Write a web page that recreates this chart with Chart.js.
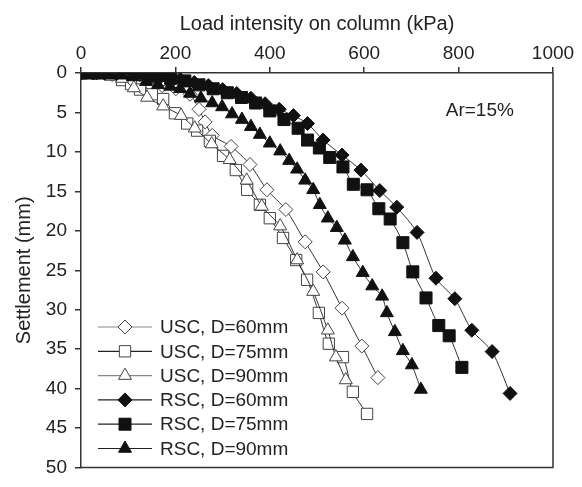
<!DOCTYPE html>
<html><head><meta charset="utf-8">
<script src="https://cdn.jsdelivr.net/npm/chart.js@4.4.0/dist/chart.umd.min.js"></script>
<style>html,body{margin:0;padding:0;background:#fff}#wrap{width:582px;height:487px}</style>
</head><body><div id="wrap"><canvas id="c" width="582" height="487"></canvas></div>
<script>
// ---- data (load kPa, settlement mm) ----
const seriesLabels = ['USC, D=60mm','USC, D=75mm','USC, D=90mm','RSC, D=60mm','RSC, D=75mm','RSC, D=90mm'];
const xTicks = [0,200,400,600,800,1000];
const yTicks = [0,5,10,15,20,25,30,35,40,45,50];
const usc60Load   = [4,34,66,97,125,146,172,201,231,250,263,278,318,358,394,434,475,513,553,595,629];
const usc60Settle = [0,0,0.2,0.6,1.0,1.4,1.6,2.0,2.7,4.6,6.2,7.9,9.3,11.6,14.8,17.3,21.4,25.2,29.8,34.6,38.6];
const usc75Load   = [4,32,61,87,106,125,150,174,199,225,246,273,301,328,352,379,400,428,456,479,504,525,555,576,606];
const usc75Settle = [0,0,0.2,0.9,1.4,2.1,2.7,3.3,5.1,6.4,7.3,8.6,10.5,12.3,14.8,16.7,18.4,20.9,23.7,26.2,30.4,34.3,36.0,40.4,43.2];
const usc90Load   = [4,32,61,87,112,140,174,212,241,277,315,351,383,422,458,492,523,540,561];
const usc90Settle = [0,0,0.2,0.7,1.9,3.1,4.2,5.4,7.0,9.0,11.0,13.6,16.9,19.4,23.7,27.7,32.6,36.0,38.9];
const rsc60Load   = [0,25,50,75,100,125,150,180,210,240,270,300,330,360,390,420,450,480,513,553,593,633,669,712,752,792,828,871,909];
const rsc60Settle = [0,0,0,0.1,0.1,0.2,0.3,0.5,0.8,1.2,1.6,2.1,2.6,3.2,3.9,4.6,5.4,6.4,8.5,10.4,12.3,14.9,17.0,20.2,26.0,28.6,32.6,35.3,40.6];
const rsc75Load   = [0,20,40,60,85,110,135,160,190,220,250,280,310,340,370,400,430,460,480,505,527,555,577,606,631,655,682,703,731,758,780,807];
const rsc75Settle = [0,0,0,0,0,0.1,0.2,0.4,0.7,1.0,1.5,2.0,2.5,3.1,3.8,4.8,5.9,7.0,8.5,9.5,10.7,11.9,14.1,14.8,17.2,18.5,21.5,25.2,28.5,32.0,33.3,37.3];
const rsc90Load   = [4,30,57,83,110,138,163,189,210,231,254,278,299,320,341,360,379,400,422,441,458,475,492,506,523,542,559,576,597,617,638,648,665,682,701,720];
const rsc90Settle = [0,0,0,0.1,0.5,1.1,1.5,1.7,2.0,2.6,3.2,3.8,4.3,5.2,5.9,6.8,7.8,8.9,9.9,11.1,12.2,13.6,14.8,16.7,18.4,19.6,21.2,23.3,25.3,27.0,28.3,30.4,32.8,35.2,37.0,40.1];
const annotationText = 'Ar=15%';
const annotationAt = [845, 4.8];

const loads = [usc60Load, usc75Load, usc90Load, rsc60Load, rsc75Load, rsc90Load];
const settles = [usc60Settle, usc75Settle, usc90Settle, rsc60Settle, rsc75Settle, rsc90Settle];
const styles = [
  {pointStyle:'rectRot', radius:7, fill:'#fff', stroke:'#444', legendLine:'#888'},
  {pointStyle:'rect', radius:8, fill:'#fff', stroke:'#444', legendLine:'#222'},
  {pointStyle:'triangle', radius:7.5, fill:'#fff', stroke:'#444', legendLine:'#888'},
  {pointStyle:'rectRot', radius:7, fill:'#111', stroke:'#111', legendLine:'#222'},
  {pointStyle:'rect', radius:8.5, fill:'#111', stroke:'#111', legendLine:'#222'},
  {pointStyle:'triangle', radius:7.5, fill:'#111', stroke:'#111', legendLine:'#222'}
];

const datasets = seriesLabels.map((lab, i) => ({
  label: lab,
  data: loads[i].map((x, j) => ({x: x, y: settles[i][j]})),
  borderColor: '#333',
  borderWidth: 1,
  tension: 0.25,
  pointStyle: styles[i].pointStyle,
  pointRadius: styles[i].radius,
  pointBackgroundColor: styles[i].fill,
  pointBorderColor: styles[i].stroke,
  pointBorderWidth: 1,
  fill: false,
  order: 5 - i
}));

const FONT = 'Liberation Sans, Arial, Helvetica, sans-serif';

const framePlugin = {
  id: 'frame',
  afterDraw(chart) {
    const {ctx, chartArea: a} = chart;
    ctx.save();
    ctx.strokeStyle = '#333';
    ctx.lineWidth = 1.5;
    ctx.beginPath();
    ctx.moveTo(a.right, a.top); ctx.lineTo(a.right, a.bottom); ctx.lineTo(a.left, a.bottom);
    ctx.stroke();
    // annotation
    const xs = chart.scales.x, ys = chart.scales.y;
    ctx.fillStyle = '#222';
    ctx.font = '19px ' + FONT;
    ctx.textAlign = 'center';
    ctx.textBaseline = 'middle';
    ctx.fillText(annotationText, xs.getPixelForValue(annotationAt[0]), ys.getPixelForValue(annotationAt[1]));
    // legend
    const x0 = a.left + 17, x1 = a.left + 71, tx = a.left + 79;
    const rowY0 = 327, rowH = 24.3;
    chart.data.datasets.forEach((ds, i) => {
      const y = rowY0 + i * rowH;
      ctx.strokeStyle = styles[i].legendLine;
      ctx.lineWidth = 1.2;
      ctx.beginPath(); ctx.moveTo(x0, y); ctx.lineTo(x1, y); ctx.stroke();
      ctx.fillStyle = styles[i].fill;
      ctx.strokeStyle = styles[i].stroke;
      ctx.lineWidth = 1;
      Chart.helpers.drawPoint(ctx, {pointStyle: styles[i].pointStyle, radius: styles[i].radius, rotation: 0, borderWidth: 1}, (x0 + x1) / 2, y);
      ctx.fillStyle = '#222';
      ctx.font = '19px ' + FONT;
      ctx.textAlign = 'left';
      ctx.textBaseline = 'middle';
      ctx.fillText(ds.label, tx, y + 1);
    });
    ctx.restore();
  }
};

new Chart(document.getElementById('c'), {
  type: 'line',
  data: {datasets},
  plugins: [framePlugin],
  options: {
    responsive: false,
    devicePixelRatio: 1,
    animation: false,
    layout: {padding: {left: 0, top: 0, right: 29, bottom: 9}},
    plugins: {legend: {display: false}, tooltip: {enabled: false}},
    scales: {
      x: {
        type: 'linear', position: 'top', min: 0, max: 1000,
        afterFit: s => { s.height = 73; },
        afterBuildTicks: s => { s.ticks = xTicks.map(v => ({value: v})); },
        ticks: {font: {size: 19, family: FONT}, color: '#222', padding: 2, maxRotation: 0, callback: v => String(v)},
        grid: {drawOnChartArea: false, drawTicks: true, tickLength: 6, color: '#333', lineWidth: 1.5},
        border: {display: true, color: '#333', width: 1.5},
        title: {display: true, text: 'Load intensity on column (kPa)', font: {size: 20, family: FONT}, color: '#222', padding: {top: 12, bottom: 0}}
      },
      y: {
        type: 'linear', reverse: true, min: 0, max: 50,
        afterFit: s => { s.width = 81; },
        afterBuildTicks: s => { s.ticks = yTicks.map(v => ({value: v})); },
        ticks: {font: {size: 19, family: FONT}, color: '#222', padding: 8, callback: v => String(v)},
        grid: {drawOnChartArea: false, drawTicks: true, tickLength: 6, color: '#333', lineWidth: 1.5},
        border: {display: true, color: '#333', width: 1.5},
        title: {display: true, text: 'Settlement (mm)', font: {size: 20, family: FONT}, color: '#222', padding: {top: 12, bottom: 0}}
      }
    }
  }
});
</script></body></html>
